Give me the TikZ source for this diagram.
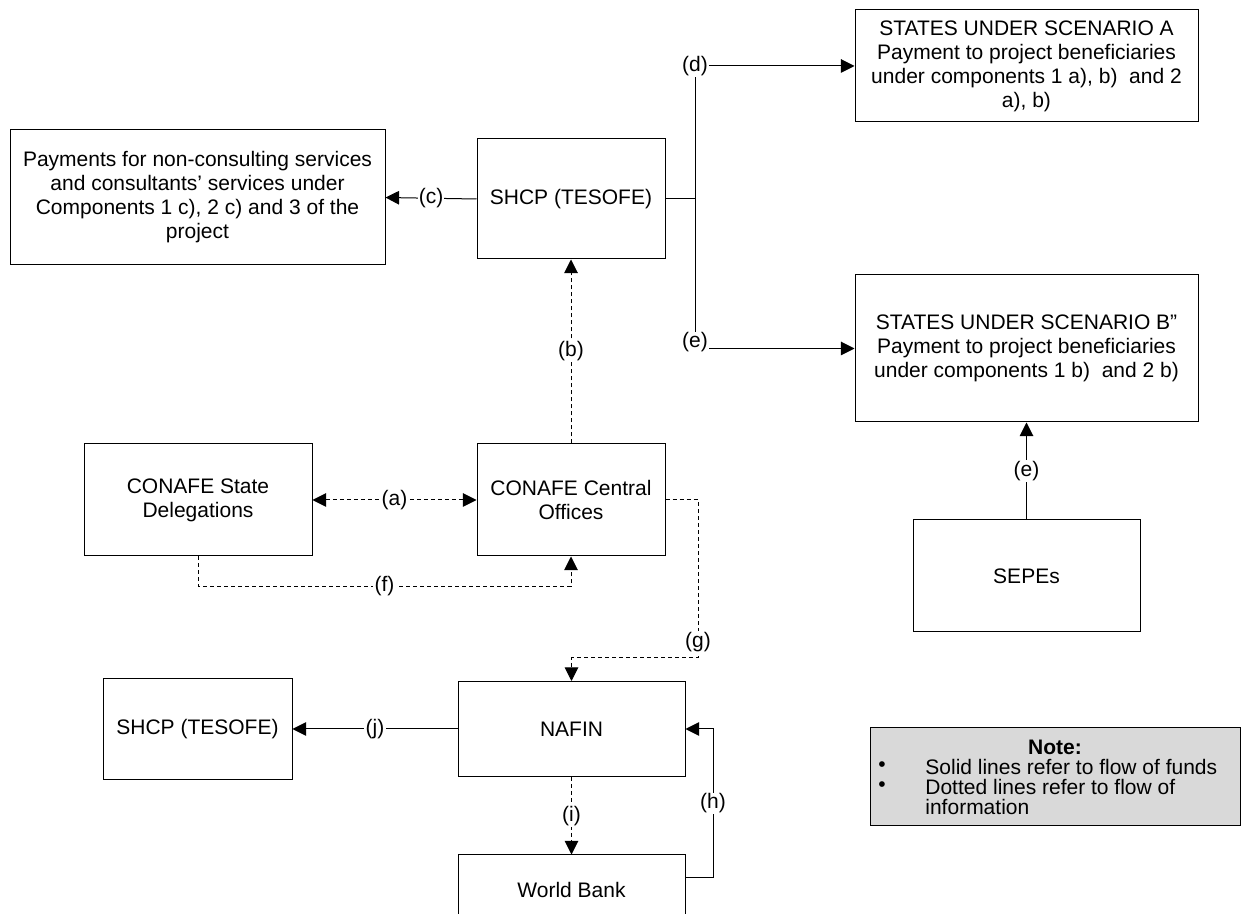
\documentclass[tikz,border=0pt]{standalone}
\usepackage{fontspec}
\setmainfont{Liberation Sans}
\usetikzlibrary{arrows.meta}
\begin{document}
\begin{tikzpicture}[x=0.5pt,y=-0.5pt,
  every node/.style={font=\fontsize{10.5pt}{12pt}\selectfont},
  box/.style={draw, line width=0.5pt, align=center, inner sep=0pt},
  lbl/.style={fill=white, inner sep=0.6pt},
  tip/.style={},
  flow/.style={line width=0.5pt, -{Triangle[length=6.8pt,width=6.8pt]}},
  info/.style={flow, dash pattern=on 2pt off 1.5pt},
  plain/.style={line width=0.5pt}]
\useasboundingbox (0,0) rectangle (1244,914);
\clip (0,0) rectangle (1244,914);
% boxes
\node[box, minimum width=187.5pt, minimum height=67.5pt] (pay) at (197.5,197.5)
  {Payments for non-consulting services\\and consultants' services under\\Components 1 c), 2 c) and 3 of the\\project};
\node[box, minimum width=94pt, minimum height=60pt] (shcpA) at (571,199) {SHCP (TESOFE)};
\node[box, minimum width=171.5pt, minimum height=56pt] (stA) at (1026.5,66)
  {STATES UNDER SCENARIO A\\Payment to project beneficiaries\\under components 1 a), b)\ \ and 2\\a), b)};
\node[box, minimum width=171.5pt, minimum height=73.5pt] (stB) at (1026.5,348.5)
  {STATES UNDER SCENARIO B''\\Payment to project beneficiaries\\under components 1 b)\ \ and 2 b)};
\node[box, minimum width=113.5pt, minimum height=56pt] (sepes) at (1026.5,576) {SEPEs};
\node[box, minimum width=114pt, minimum height=56pt] (del) at (198,500) {CONAFE State\\Delegations};
\node[box, minimum width=94pt, minimum height=56pt] (cen) at (571,500) {CONAFE Central\\Offices};
\node[box, minimum width=113.5pt, minimum height=47.5pt] (nafin) at (571.5,729) {NAFIN};
\node[box, minimum width=94.5pt, minimum height=50.5pt] (shcpB) at (197.5,729) {SHCP (TESOFE)};
\node[box, minimum width=113.5pt, minimum height=35pt] (wb) at (571.5,890) {World Bank};
% note
\node[draw, line width=0.5pt, fill={rgb,255:red,217;green,217;blue,217}, minimum width=185pt, minimum height=49pt, inner sep=0pt] (note) at (1055,777) {};
\node (notet) at (1055,747) {\bfseries Note:};
\node (b1) at (882,767) {\textbullet};
\node[anchor=west, inner sep=0pt] (n1) at (925,767) {Solid lines refer to flow of funds};
\node (b2) at (882,787) {\textbullet};
\node[anchor=west, inner sep=0pt] (n2) at (925,787) {Dotted lines refer to flow of};
\node[anchor=west, inner sep=0pt] (n3) at (925,807) {information};
% connectors
\draw[flow] (shcpA.west) -- node[lbl]{(c)} (pay.east);
\coordinate (jn) at (695,199);
\draw[plain] (shcpA.east) -- (jn);
\draw[flow] (jn) |- node[lbl,pos=0.5]{(d)} (stA.west);
\draw[flow] (jn) |- node[lbl,pos=0.5,yshift=3pt]{(e)} (stB.west);
\draw[info] (cen.north) -- node[lbl]{(b)} (shcpA.south);
\draw[info,{Triangle[length=6.8pt,width=6.8pt]}-{Triangle[length=6.8pt,width=6.8pt]}] (del.east) -- node[lbl]{(a)} (cen.west);
\draw[info] (del.south) -- ++(0,30) -| node[lbl,pos=0.25]{(f)} (cen.south);
\coordinate (g1) at (698,500);
\coordinate (g2) at (698,658);
\coordinate (g3) at (571.5,658);
\draw[info] (cen.east) -- (g1) -- node[lbl,pos=0.9]{(g)} (g2) -- (g3) -- (nafin.north);
\draw[info] (nafin.south) -- node[lbl]{(i)} (wb.north);
\coordinate (h1) at (713,878);
\draw[flow] ([yshift=6pt]wb.east) -- (h1) |- node[lbl,pos=0.25]{(h)} (nafin.east);
\draw[flow] (nafin.west) -- node[lbl]{(j)} (shcpB.east);
\draw[flow] (sepes.north) -- node[lbl]{(e)} (stB.south);
\end{tikzpicture}
\end{document}
